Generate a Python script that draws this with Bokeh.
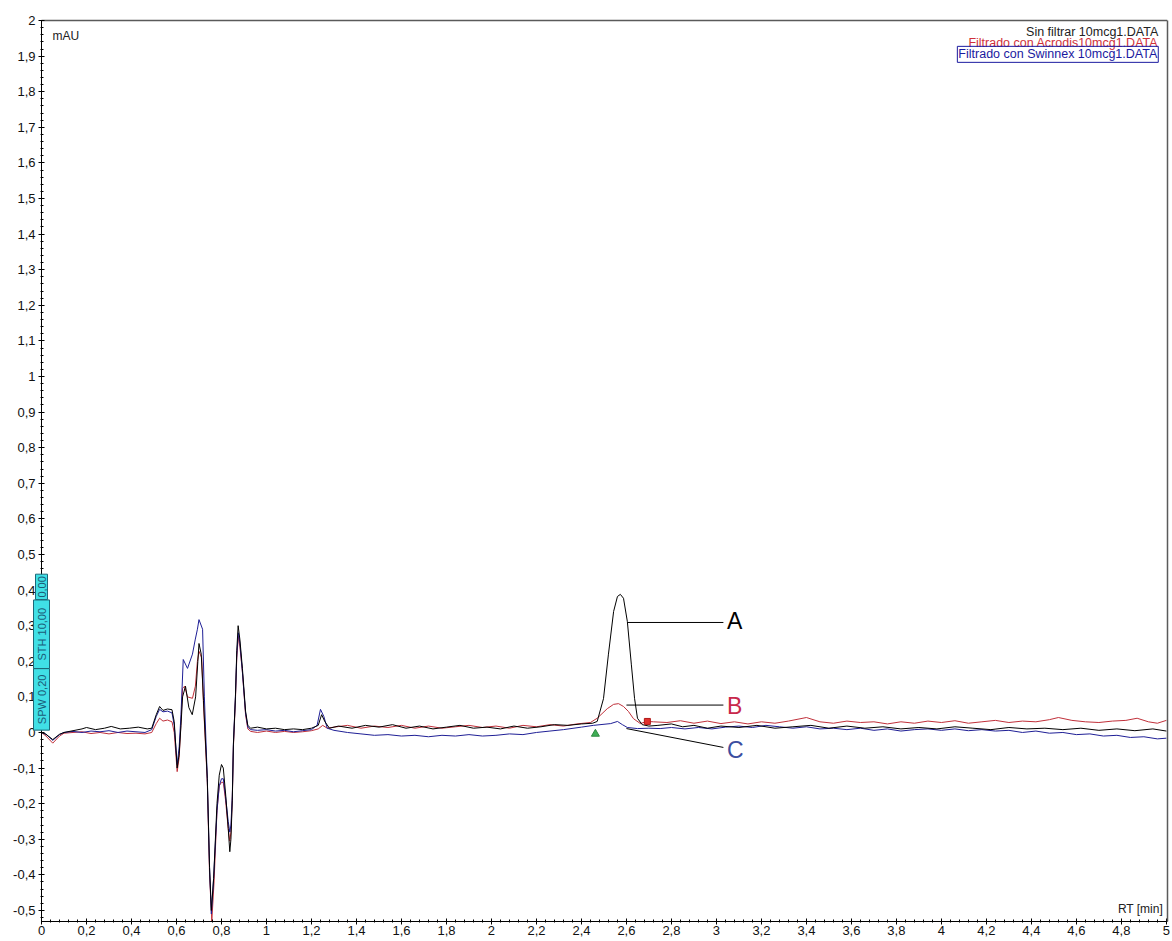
import math
from bokeh.plotting import figure
from bokeh.models import Range1d, FixedTicker, Label, LinearAxis
from bokeh.embed import file_html
from bokeh.resources import INLINE

# ---------------- data ----------------
x_tick_values = [0, 0.2, 0.4, 0.6, 0.8, 1, 1.2, 1.4, 1.6, 1.8, 2, 2.2, 2.4, 2.6, 2.8,
                 3, 3.2, 3.4, 3.6, 3.8, 4, 4.2, 4.4, 4.6, 4.8, 5]
x_tick_labels = ["0", "0,2", "0,4", "0,6", "0,8", "1", "1,2", "1,4", "1,6", "1,8", "2",
                 "2,2", "2,4", "2,6", "2,8", "3", "3,2", "3,4", "3,6", "3,8", "4", "4,2",
                 "4,4", "4,6", "4,8", "5"]
y_tick_values = [-0.5, -0.4, -0.3, -0.2, -0.1, 0, 0.1, 0.2, 0.3, 0.4, 0.5, 0.6, 0.7, 0.8,
                 0.9, 1, 1.1, 1.2, 1.3, 1.4, 1.5, 1.6, 1.7, 1.8, 1.9, 2]
y_tick_labels = ["-0,5", "-0,4", "-0,3", "-0,2", "-0,1", "0", "0,1", "0,2", "0,3", "0,4",
                 "0,5", "0,6", "0,7", "0,8", "0,9", "1", "1,1", "1,2", "1,3", "1,4", "1,5",
                 "1,6", "1,7", "1,8", "1,9", "2"]

series_names = ["Sin filtrar 10mcg1.DATA",
                "Filtrado con Acrodis10mcg1.DATA",
                "Filtrado con Swinnex 10mcg1.DATA"]

black_x = [0, 0.02, 0.05, 0.08, 0.1, 0.14, 0.18, 0.2, 0.24, 0.28, 0.31, 0.35, 0.39, 0.43,
           0.47, 0.49, 0.51, 0.525, 0.54, 0.56, 0.58, 0.59, 0.603, 0.612, 0.62, 0.627,
           0.64, 0.655, 0.67, 0.685, 0.695, 0.70, 0.71, 0.72, 0.737, 0.747, 0.755, 0.765,
           0.78, 0.79, 0.80, 0.808, 0.818, 0.83, 0.837, 0.842, 0.848, 0.853, 0.862, 0.868,
           0.874, 0.882, 0.893, 0.907, 0.917, 0.93, 0.96, 1.0, 1.04, 1.08, 1.12, 1.16, 1.2,
           1.23, 1.245, 1.26, 1.28, 1.32, 1.38, 1.44, 1.5, 1.56, 1.62, 1.68, 1.74, 1.8,
           1.86, 1.92, 1.98, 2.04, 2.1, 2.16, 2.22, 2.28, 2.34, 2.4, 2.45, 2.47, 2.498,
           2.52, 2.543, 2.56, 2.573, 2.587, 2.604, 2.622, 2.636, 2.649, 2.67, 2.7, 2.74,
           2.8, 2.85, 2.9, 2.96, 3.02, 3.1, 3.18, 3.26, 3.34, 3.42, 3.5, 3.58, 3.66, 3.74,
           3.82, 3.9, 3.98, 4.06, 4.14, 4.22, 4.3, 4.38, 4.46, 4.54, 4.62, 4.7, 4.78, 4.86,
           4.94, 5.0]
black_y = [0.0, -0.005, -0.02, -0.005, 0.0, 0.005, 0.01, 0.014, 0.008, 0.012, 0.017, 0.01,
           0.012, 0.015, 0.01, 0.012, 0.05, 0.073, 0.062, 0.066, 0.064, 0.03, -0.10, -0.06,
           0.02, 0.10, 0.13, 0.07, 0.05, 0.10, 0.20, 0.25, 0.22, 0.09, -0.13, -0.38, -0.50,
           -0.41, -0.20, -0.12, -0.09, -0.10, -0.17, -0.27, -0.335, -0.30, -0.19, -0.035,
           0.10, 0.23, 0.30, 0.26, 0.18, 0.06, 0.02, 0.012, 0.015, 0.01, 0.012, 0.008, 0.01,
           0.008, 0.012, 0.02, 0.05, 0.03, 0.012, 0.018, 0.012, 0.02, 0.015, 0.022, 0.012,
           0.018, 0.01, 0.015, 0.02, 0.012, 0.015, 0.01, 0.018, 0.012, 0.016, 0.022, 0.02,
           0.024, 0.026, 0.031, 0.095, 0.22, 0.34, 0.382, 0.388, 0.377, 0.312, 0.19, 0.096,
           0.04, 0.022, 0.018, 0.02, 0.024, 0.016, 0.02, 0.012, 0.018, 0.014, 0.02, 0.012,
           0.016, 0.02, 0.012, 0.018, 0.012, 0.016, 0.01, 0.014, 0.01, 0.016, 0.012, 0.008,
           0.014, 0.01, 0.012, 0.008, 0.012, 0.006, 0.01, 0.005, 0.01, 0.004]

red_x = [0, 0.02, 0.05, 0.08, 0.1, 0.14, 0.18, 0.22, 0.26, 0.3, 0.34, 0.38, 0.42, 0.46,
         0.49, 0.51, 0.525, 0.54, 0.56, 0.58, 0.59, 0.603, 0.612, 0.62, 0.627, 0.636, 0.649,
         0.671, 0.684, 0.693, 0.70, 0.712, 0.72, 0.737, 0.747, 0.757, 0.767, 0.78, 0.79,
         0.80, 0.808, 0.818, 0.83, 0.837, 0.842, 0.848, 0.853, 0.862, 0.868, 0.875, 0.882,
         0.893, 0.907, 0.917, 0.93, 0.96, 1.0, 1.04, 1.08, 1.12, 1.16, 1.2, 1.23, 1.25,
         1.27, 1.3, 1.36, 1.42, 1.48, 1.54, 1.6, 1.66, 1.72, 1.78, 1.84, 1.9, 1.96, 2.02,
         2.08, 2.14, 2.2, 2.26, 2.32, 2.38, 2.44, 2.47, 2.515, 2.543, 2.565, 2.587, 2.609,
         2.631, 2.662, 2.69, 2.72, 2.78, 2.84, 2.9, 2.96, 3.02, 3.08, 3.14, 3.2, 3.26, 3.32,
         3.4, 3.46, 3.52, 3.58, 3.64, 3.7, 3.76, 3.82, 3.88, 3.94, 4.0, 4.06, 4.12, 4.18,
         4.24, 4.3, 4.36, 4.42, 4.48, 4.52, 4.58, 4.64, 4.7, 4.76, 4.82, 4.87, 4.92, 4.96,
         5.0]
red_y = [0.0, -0.01, -0.03, -0.01, -0.002, 0.0, 0.002, -0.003, 0.0, -0.004, 0.0, -0.003,
         -0.002, -0.004, 0.0, 0.025, 0.04, 0.032, 0.035, 0.03, 0.0, -0.11, -0.07, 0.03,
         0.124, 0.13, 0.10, 0.096, 0.13, 0.20, 0.228, 0.21, 0.08, -0.14, -0.40, -0.53,
         -0.42, -0.22, -0.15, -0.14, -0.14, -0.19, -0.27, -0.305, -0.28, -0.19, -0.04, 0.09,
         0.21, 0.27, 0.24, 0.17, 0.05, 0.01, 0.003, 0.0, 0.004, 0.0, 0.003, 0.0, 0.002,
         0.005, 0.01, 0.02, 0.012, 0.015, 0.02, 0.012, 0.018, 0.014, 0.02, 0.012, 0.018,
         0.012, 0.016, 0.02, 0.014, 0.018, 0.012, 0.02, 0.016, 0.022, 0.018, 0.024, 0.028,
         0.04, 0.067, 0.079, 0.081, 0.073, 0.059, 0.039, 0.025, 0.031, 0.03, 0.028, 0.033,
         0.026, 0.032, 0.025, 0.03, 0.024, 0.03, 0.026, 0.032, 0.042, 0.03, 0.026, 0.032,
         0.028, 0.03, 0.024, 0.03, 0.026, 0.032, 0.028, 0.033, 0.026, 0.03, 0.034, 0.028,
         0.032, 0.03, 0.036, 0.042, 0.034, 0.03, 0.028, 0.032, 0.034, 0.04, 0.03, 0.026,
         0.034]

blue_x = [0, 0.02, 0.05, 0.08, 0.1, 0.14, 0.18, 0.22, 0.26, 0.3, 0.34, 0.38, 0.42, 0.46,
          0.49, 0.51, 0.525, 0.54, 0.56, 0.58, 0.59, 0.603, 0.612, 0.62, 0.63, 0.649, 0.671,
          0.683, 0.693, 0.70, 0.716, 0.724, 0.737, 0.747, 0.755, 0.765, 0.78, 0.79, 0.80,
          0.808, 0.818, 0.83, 0.837, 0.842, 0.848, 0.853, 0.862, 0.868, 0.875, 0.882, 0.893,
          0.907, 0.917, 0.93, 0.96, 1.0, 1.04, 1.08, 1.12, 1.16, 1.2, 1.225, 1.24, 1.255,
          1.27, 1.3, 1.36, 1.42, 1.48, 1.54, 1.6, 1.66, 1.72, 1.78, 1.84, 1.9, 1.96, 2.02,
          2.08, 2.14, 2.2, 2.26, 2.32, 2.4, 2.453, 2.53, 2.56, 2.582, 2.604, 2.649, 2.7,
          2.75, 2.8, 2.86, 2.92, 2.98, 3.04, 3.1, 3.16, 3.22, 3.28, 3.34, 3.4, 3.46, 3.52,
          3.58, 3.64, 3.7, 3.76, 3.82, 3.88, 3.94, 4.0, 4.06, 4.12, 4.18, 4.24, 4.3, 4.36,
          4.42, 4.48, 4.54, 4.6, 4.66, 4.72, 4.78, 4.84, 4.9, 4.96, 5.0]
blue_y = [0.0, -0.005, -0.022, -0.006, 0.0, 0.003, 0.0, 0.004, 0.002, 0.005, 0.0, 0.004,
          0.002, 0.0, 0.008, 0.045, 0.065, 0.058, 0.06, 0.055, 0.02, -0.09, -0.04, 0.05,
          0.205, 0.18, 0.22, 0.26, 0.29, 0.317, 0.29, 0.10, -0.13, -0.38, -0.51, -0.41,
          -0.22, -0.15, -0.13, -0.13, -0.18, -0.25, -0.28, -0.26, -0.18, -0.03, 0.10, 0.22,
          0.28, 0.25, 0.17, 0.055, 0.015, 0.008, 0.006, 0.008, 0.004, 0.006, 0.002, 0.005,
          0.008, 0.02, 0.065, 0.045, 0.012, 0.006, 0.0, -0.004, -0.008, -0.006, -0.01,
          -0.008, -0.012, -0.008, -0.01, -0.006, -0.01, -0.008, -0.004, -0.006, 0.0, 0.004,
          0.008, 0.015, 0.02, 0.025, 0.031, 0.022, 0.014, 0.011, 0.012, 0.011, 0.014, 0.01,
          0.014, 0.01, 0.015, 0.018, 0.014, 0.02, 0.016, 0.012, 0.016, 0.01, 0.012, 0.008,
          0.012, 0.006, 0.01, 0.004, 0.008, 0.01, 0.006, 0.01, 0.005, 0.008, 0.004, 0.006,
          0.0, 0.004, -0.002, 0.0, -0.006, -0.004, -0.01, -0.008, -0.014, -0.012, -0.018,
          -0.016]

# peak start / end markers
start_marker_x = [2.462]
start_marker_y = [-0.004]
end_marker_x = [2.693]
end_marker_y = [0.031]

# callouts A, B, C
callout_labels = ["A", "B", "C"]
callout_x0 = [2.604, 2.60, 2.60]
callout_y0 = [0.309, 0.077, 0.011]
callout_x1 = [3.031, 3.031, 3.031]
callout_y1 = [0.309, 0.077, -0.042]
callout_text_y = [0.312, 0.074, -0.048]
callout_colors = ["#000000", "#c8284b", "#3c4ea0"]

# instrument parameter box (bottom to top)
param_texts = ["SPW 0,20", "STH 10,00", "0,00"]
param_centers = [0.093, 0.276, 0.409]
param_pad = [6, 8, 2]

X_MIN, X_MAX = 0, 5.005
Y_MIN, Y_MAX = -0.531, 2.0

# ---------------- figure ----------------
FONT = "Liberation Sans"
FRAME_GRAY = "#5a5a5a"
p = figure(width=1170, height=939, output_backend="svg", toolbar_location=None,
           x_range=Range1d(-0.1556, X_MAX), y_range=Range1d(Y_MIN, 2.031),
           min_border=0, min_border_left=6, min_border_top=9, min_border_right=3,
           min_border_bottom=18)
p.background_fill_color = "white"
p.border_fill_color = "white"
p.outline_line_color = None
p.xgrid.visible = False
p.ygrid.visible = False

x_minor = [round(i * 0.04, 2) for i in range(0, 126)]
y_minor = [round(-0.52 + i * 0.02, 2) for i in range(0, 127)]

p.xaxis.ticker = FixedTicker(ticks=x_tick_values, minor_ticks=x_minor)
p.xaxis.major_label_overrides = dict(zip(x_tick_values, x_tick_labels))
p.xaxis.bounds = (X_MIN, X_MAX)
p.yaxis.ticker = FixedTicker(ticks=y_tick_values, minor_ticks=y_minor)
p.yaxis.major_label_overrides = dict(zip(y_tick_values, y_tick_labels))
p.yaxis.fixed_location = X_MIN
p.yaxis.bounds = (Y_MIN, Y_MAX)

for ax in (p.xaxis[0], p.yaxis[0]):
    ax.axis_line_color = "black"
    ax.major_tick_line_color = "black"
    ax.minor_tick_line_color = "black"
    ax.major_tick_in = 3
    ax.major_tick_out = 3
    ax.minor_tick_in = 2
    ax.minor_tick_out = 1
    ax.major_label_text_font = FONT
    ax.major_label_text_font_size = "13px"
    ax.major_label_text_color = "#111111"
p.xaxis.major_label_standoff = 1
p.yaxis.major_label_standoff = 3

# right frame border (plain axis line, no ticks) and top border line
right_border = LinearAxis(ticker=FixedTicker(ticks=[]), bounds=(Y_MIN, Y_MAX),
                          axis_line_color=FRAME_GRAY, axis_line_width=1.5,
                          major_tick_line_color=None, minor_tick_line_color=None,
                          major_tick_out=0, major_label_standoff=0)
p.add_layout(right_border, "right")
p.segment([X_MIN], [Y_MAX], [X_MAX], [Y_MAX], line_color=FRAME_GRAY, line_width=1.5)

# traces
p.line(red_x, red_y, line_color="#c0303a", line_width=1)
p.line(blue_x, blue_y, line_color="#1f1f96", line_width=1)
p.line(black_x, black_y, line_color="#000000", line_width=1)

# markers
p.scatter(start_marker_x, start_marker_y, marker="triangle", size=8,
          fill_color="#3fae55", line_color="#2e8a40")
p.scatter(end_marker_x, end_marker_y, marker="square", size=6,
          fill_color="#e0302c", line_color="#b01818")

# callouts
p.segment(callout_x0, callout_y0, callout_x1, callout_y1, line_color="black", line_width=1)
for lab, ty, col in zip(callout_labels, callout_text_y, callout_colors):
    p.add_layout(Label(x=3.047, y=ty, text=lab, text_color=col, text_font=FONT,
                       text_font_size="23px", text_baseline="middle", text_align="left"))

# legend texts (top right)
legend_colors = ["#222222", "#d0303a", "#1a1aa0"]
legend_y = [1.969, 1.937, 1.905]
for i, (name, col, ly) in enumerate(zip(series_names, legend_colors, legend_y)):
    kw = {}
    if i == 2:
        kw = dict(border_line_color="#1a1aa0", border_line_width=1, padding=1)
    p.add_layout(Label(x=4.964, y=ly, text=name, text_color=col, text_font=FONT,
                       text_font_size="12.5px", text_align="right",
                       text_baseline="middle", **kw))

# unit labels
p.add_layout(Label(x=0.049, y=1.956, text="mAU", text_font=FONT, text_font_size="12px",
                   text_color="#222222", text_baseline="middle"))
p.add_layout(Label(x=4.985, y=-0.497, text="RT [min]", text_font=FONT,
                   text_font_size="12px", text_color="#222222", text_baseline="middle",
                   text_align="right"))

# cyan parameter box straddling the y axis
for txt, cy, pad in zip(param_texts, param_centers, param_pad):
    p.add_layout(Label(x=X_MIN, y=cy, text=txt, angle=math.pi / 2,
                       text_font=FONT, text_font_size="11px", text_color="#1b5c78",
                       text_align="center", text_baseline="middle",
                       background_fill_color="#40e0e6", background_fill_alpha=1.0,
                       border_line_color="#1d6878", border_line_width=1,
                       padding=(pad, 2)))

open("out.html", "w").write(file_html(p, INLINE))
